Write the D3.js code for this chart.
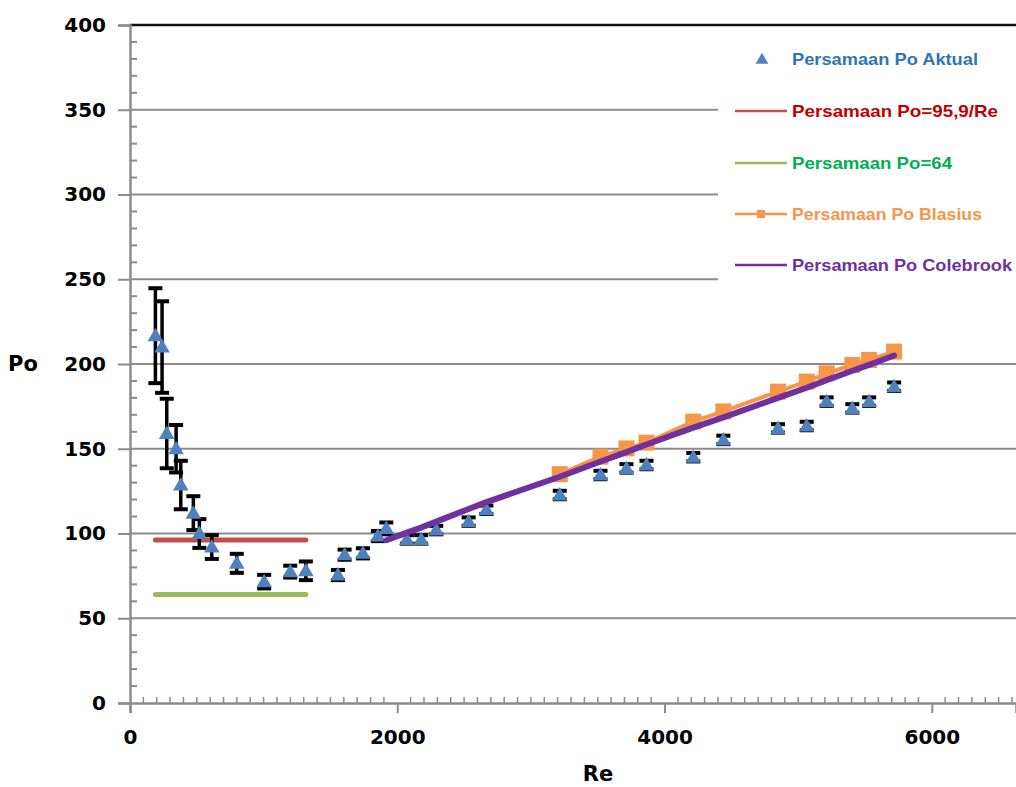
<!DOCTYPE html>
<html>
<head>
<meta charset="utf-8">
<script src="https://cdn.jsdelivr.net/npm/d3@7"></script>
<style>
  html, body { margin: 0; padding: 0; background: #fff; }
  svg { display: block; }
</style>
</head>
<body>
<svg id="chart" width="1016" height="787"></svg>
<script>
// ---------- data ----------
const reActual = [190, 240, 275, 345, 380, 474, 519, 612, 799, 1004, 1199, 1316, 1556, 1606, 1743, 1855, 1918, 2072, 2179, 2292, 2534, 2667, 3216, 3521, 3715, 3865, 4215, 4440, 4849, 5064, 5213, 5405, 5531, 5718];
const poActual = [216.7, 210, 159, 150, 128.6, 112, 100, 92, 82.4, 71.6, 77.5, 78, 75.5, 87.5, 88.3, 98.5, 103, 96.5, 96.5, 102, 107, 114, 122.7, 134.5, 138.4, 140.4, 145, 155.2, 162, 163.4, 177.8, 173.8, 177.8, 186.6];
const errActual = [28, 27, 20.5, 14, 14.3, 10, 8.5, 7, 5.6, 4, 3.5, 5.5, 3, 3, 3, 3, 3.5, 2.5, 2.5, 2.5, 2.5, 2.5, 2.5, 2.5, 2.5, 2.5, 2.5, 2.5, 2.5, 2.5, 2.5, 2.5, 2.5, 2.5];

const reLaminar = [190, 1316];
const po959 = [96.2, 96.2];
const po64 = [64, 64];

const reBlasius = [3216, 3521, 3715, 3865, 4215, 4440, 4849, 5064, 5213, 5405, 5531, 5718];
const poBlasius = [135, 145.3, 150.2, 153.6, 166, 172, 183.7, 189.6, 194.5, 199.4, 202.4, 207.3];

const reColebrook = [1918, 2072, 2179, 2292, 2534, 2667, 3216, 3521, 3715, 3865, 4215, 4440, 4849, 5064, 5213, 5405, 5531, 5718];
const poColebrook = [96, 100.5, 103.5, 107, 114.5, 118.5, 133.5, 142.5, 148, 152.5, 162.5, 168.5, 180, 186, 190.5, 196, 199.5, 205];

const xTicks = [0, 2000, 4000, 6000];
const yTicks = [0, 50, 100, 150, 200, 250, 300, 350, 400];
const legendLabels = ["Persamaan Po Aktual", "Persamaan Po=95,9/Re", "Persamaan Po=64", "Persamaan Po Blasius", "Persamaan Po Colebrook"];

// ---------- styles ----------
const C = {
  blue: "#4f81bd", red: "#c0504d", green: "#9bbb59", orange: "#f79646", purple: "#7030a0",
  grid: "#8c8c8c", axis: "#8c8c8c"
};
const legendTextColors = ["#2e75b6", "#c00000", "#00b050", "#f79646", "#7030a0"];
const tickFont = "'DejaVu Sans', 'Liberation Sans', sans-serif";

const svg = d3.select("#chart");
const x = d3.scaleLinear().domain([0, 6630]).range([130, 1016]);
const y = d3.scaleLinear().domain([0, 400]).range([703, 25]);

// gridlines
svg.append("g").selectAll("line")
  .data(yTicks.filter(v => v > 0 && v < 400))
  .join("line")
  .attr("x1", x(0)).attr("x2", 1016)
  .attr("y1", d => y(d)).attr("y2", d => y(d))
  .attr("stroke", C.grid).attr("stroke-width", 2);

// top border
svg.append("line")
  .attr("x1", x(0)).attr("x2", 1016).attr("y1", y(400)).attr("y2", y(400))
  .attr("stroke", "#111").attr("stroke-width", 2.5);

// y axis
const yAxis = d3.axisLeft(y).tickValues(yTicks).tickSize(12).tickFormat(d3.format("d"));
const gy = svg.append("g").attr("transform", `translate(${x(0)},0)`).call(yAxis);
gy.select(".domain").attr("stroke", C.axis).attr("stroke-width", 2.5);
gy.selectAll(".tick line").attr("stroke", C.axis).attr("stroke-width", 2);
gy.selectAll(".tick text").attr("x", -24).attr("font-family", tickFont).attr("font-weight", "bold")
  .attr("font-size", 20).attr("fill", "#000");
const yMinor = d3.range(0, 401, 10).filter(v => v % 50 !== 0);
gy.append("g").selectAll("line").data(yMinor).join("line")
  .attr("x1", 0).attr("x2", 7).attr("y1", d => y(d)).attr("y2", d => y(d))
  .attr("stroke", C.axis).attr("stroke-width", 2);

// x axis
const xAxis = d3.axisBottom(x).tickValues(xTicks).tickSize(10).tickFormat(d3.format("d"));
const gx = svg.append("g").attr("transform", `translate(0,${y(0)})`).call(xAxis);
gx.select(".domain").attr("stroke", C.axis).attr("stroke-width", 2.5);
gx.selectAll(".tick line").attr("stroke", C.axis).attr("stroke-width", 2);
gx.selectAll(".tick text").attr("y", 34).attr("dy", "0.35em").attr("font-family", tickFont)
  .attr("font-weight", "bold").attr("font-size", 20).attr("fill", "#000");
const xMinor = d3.range(0, 6631, 100).filter(v => v % 2000 !== 0);
gx.append("g").selectAll("line").data(xMinor).join("line")
  .attr("x1", d => x(d)).attr("x2", d => x(d)).attr("y1", 0).attr("y2", -6)
  .attr("stroke", C.axis).attr("stroke-width", 1.5);

// axis titles
svg.append("text").attr("x", 23).attr("y", 364).attr("dy", "0.35em").attr("text-anchor", "middle")
  .attr("font-family", tickFont).attr("font-weight", "bold").attr("font-size", 21).text("Po");
svg.append("text").attr("x", 598).attr("y", 774).attr("dy", "0.35em").attr("text-anchor", "middle")
  .attr("font-family", tickFont).attr("font-weight", "bold").attr("font-size", 21).text("Re");

// laminar reference lines
const lam = (vals) => reLaminar.map((r, i) => [r, vals[i]]);
const line = d3.line().x(d => x(d[0])).y(d => y(d[1]));
svg.append("path").datum(lam(po959)).attr("d", line).attr("fill", "none")
  .attr("stroke", C.red).attr("stroke-width", 5).attr("stroke-linecap", "round");
svg.append("path").datum(lam(po64)).attr("d", line).attr("fill", "none")
  .attr("stroke", C.green).attr("stroke-width", 5).attr("stroke-linecap", "round");

// actual: error bars + triangles
const act = reActual.map((r, i) => ({ r, p: poActual[i], e: errActual[i] }));
const gErr = svg.append("g").attr("stroke", "#000");
gErr.selectAll("line.v").data(act).join("line").attr("class", "v")
  .attr("x1", d => x(d.r)).attr("x2", d => x(d.r))
  .attr("y1", d => y(d.p + d.e)).attr("y2", d => y(d.p - d.e)).attr("stroke-width", 3.5);
gErr.selectAll("line.t").data(act).join("line").attr("class", "t")
  .attr("x1", d => x(d.r) - 7).attr("x2", d => x(d.r) + 7)
  .attr("y1", d => y(d.p + d.e)).attr("y2", d => y(d.p + d.e)).attr("stroke-width", 4);
gErr.selectAll("line.b").data(act).join("line").attr("class", "b")
  .attr("x1", d => x(d.r) - 7).attr("x2", d => x(d.r) + 7)
  .attr("y1", d => y(d.p - d.e)).attr("y2", d => y(d.p - d.e)).attr("stroke-width", 4);
const tri = d3.symbol().type(d3.symbolTriangle).size(105);
svg.append("g").selectAll("path").data(act).join("path")
  .attr("transform", d => `translate(${x(d.r)},${y(d.p) + 1})`)
  .attr("d", tri).attr("fill", C.blue);

// Blasius
const blas = reBlasius.map((r, i) => [r, poBlasius[i]]);
svg.append("path").datum(blas).attr("d", line).attr("fill", "none")
  .attr("stroke", C.orange).attr("stroke-width", 4);
svg.append("g").selectAll("rect").data(blas).join("rect")
  .attr("x", d => x(d[0]) - 8).attr("y", d => y(d[1]) - 8)
  .attr("width", 16).attr("height", 16).attr("fill", C.orange);

// Colebrook
const cole = reColebrook.map((r, i) => [r, poColebrook[i]]);
svg.append("path").datum(cole).attr("d", line).attr("fill", "none")
  .attr("stroke", C.purple).attr("stroke-width", 6).attr("stroke-linecap", "round")
  .attr("stroke-linejoin", "round");

// legend
const lg = svg.append("g");
lg.append("rect").attr("x", 718).attr("y", 28).attr("width", 298).attr("height", 262).attr("fill", "#fff");
const lY = [59, 111, 163, 214, 265];
const lW = [186, 206, 160, 190, 220];
legendLabels.forEach((t, i) => {
  lg.append("text").attr("x", 792).attr("y", lY[i]).attr("dy", "0.35em")
    .attr("font-family", "'Liberation Sans', Arial, sans-serif").attr("font-size", 17)
    .attr("font-weight", 600)
    .attr("textLength", lW[i]).attr("lengthAdjust", "spacingAndGlyphs")
    .attr("fill", legendTextColors[i]).text(t);
});
lg.append("path").attr("transform", `translate(762,${lY[0] + 1})`)
  .attr("d", d3.symbol().type(d3.symbolTriangle).size(70)).attr("fill", C.blue);
const lineCols = [C.red, C.green, C.orange, C.purple];
lineCols.forEach((c, i) => {
  lg.append("line").attr("x1", 735).attr("x2", 787).attr("y1", lY[i + 1]).attr("y2", lY[i + 1])
    .attr("stroke", c).attr("stroke-width", 2.5);
});
lg.append("rect").attr("x", 757).attr("y", lY[3] - 4).attr("width", 8).attr("height", 8).attr("fill", C.orange);
</script>
</body>
</html>
